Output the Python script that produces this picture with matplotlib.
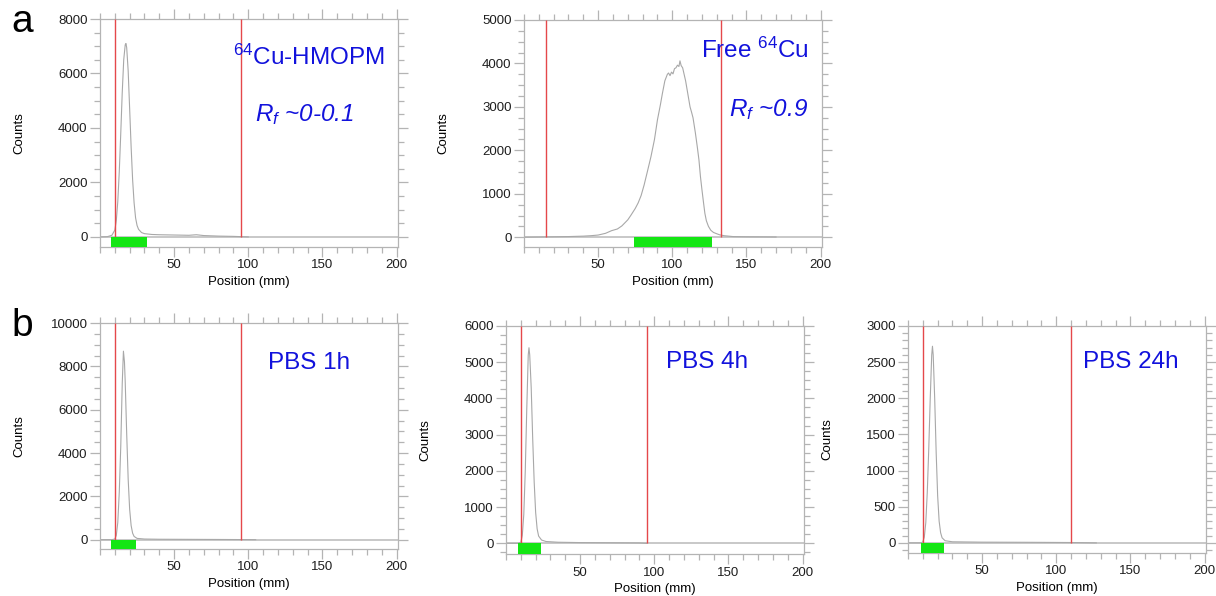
import matplotlib.pyplot as plt
from matplotlib.ticker import MultipleLocator

plt.rcParams["font.family"] = ["Liberation Sans", "DejaVu Sans"]
plt.rcParams["mathtext.fontset"] = "custom"
plt.rcParams["mathtext.rm"] = "Liberation Sans"
plt.rcParams["mathtext.it"] = "Liberation Sans:italic"

# Radio-TLC scans: position (mm) vs counts
hmopm_x = [0, 5, 8, 10, 11, 12, 13, 14, 15, 16, 17, 17.5, 18, 19, 20, 21, 22, 23,
           24, 25, 26, 28, 30, 35, 40, 50, 60, 65, 70, 80, 90, 100]
hmopm_y = [0, 10, 60, 250, 600, 1300, 2400, 3800, 5300, 6500, 7050, 7100, 6950,
           6100, 4700, 3300, 2100, 1250, 700, 420, 280, 160, 120, 90, 80, 70, 60,
           80, 50, 30, 20, 0]

free_x = [0, 10, 20, 30, 40, 45, 50, 55, 59, 63, 66, 68, 70, 72, 75, 77, 79, 81, 83,
          85.6, 88, 90, 92, 93.3, 95, 96.7, 97.5, 98.5, 99.5, 100.5, 101.5, 102.5,
          103.5, 104.5, 105.2, 106, 107, 108, 109, 110, 111, 112, 113, 114, 115.6,
          117, 118, 119, 120, 121, 122, 123, 124.4, 126, 127.8, 130, 132, 135, 141,
          150, 160, 170]
free_y = [0, 5, 10, 15, 25, 35, 50, 90, 150, 190, 260, 330, 400, 500, 660, 790, 960,
          1200, 1480, 1850, 2250, 2700, 3050, 3300, 3600, 3750, 3780, 3720, 3800, 3760,
          3880, 3900, 3960, 3930, 4060, 3950, 3900, 3750, 3600, 3400, 3200, 3000, 2880,
          2750, 2400, 2050, 1780, 1400, 1100, 820, 550, 380, 250, 160, 110, 80, 55, 35,
          15, 10, 8, 5]

pbs1_x = [0, 8, 10, 11, 12, 13, 14, 15, 15.8, 16.5, 17, 18, 19, 20, 21, 22, 23, 25,
          30, 40, 60, 80, 95, 105]
pbs1_y = [0, 0, 30, 200, 800, 2200, 4300, 7200, 8700, 8200, 7300, 4900, 2800, 1400,
          650, 300, 150, 60, 30, 20, 15, 10, 5, 0]

pbs4_x = [0, 8, 10, 11, 12, 13, 14, 15, 15.5, 16, 17, 18, 19, 20, 21, 22, 24, 27, 35,
          50, 70, 90, 95]
pbs4_y = [0, 0, 30, 220, 800, 2000, 3700, 5200, 5400, 5200, 4300, 2900, 1700, 850,
          400, 200, 90, 50, 30, 20, 15, 10, 0]

pbs24_x = [0, 9, 10, 11, 12, 13, 14, 15, 16, 16.5, 17, 18, 19, 20, 21, 22, 23, 25, 30,
           50, 80, 110, 127]
pbs24_y = [0, 0, 15, 80, 280, 700, 1300, 2000, 2600, 2720, 2600, 2000, 1250, 650, 300,
           140, 70, 30, 15, 10, 8, 5, 0]

titles = [r"$^{64}$Cu-HMOPM", r"Free $^{64}$Cu", "PBS 1h", "PBS 4h", "PBS 24h"]
rf_labels = [r"$R_f$ ~0-0.1", r"$R_f$ ~0.9", None, None, None]
red_lines = [(10, 95), (15, 133), (10, 95), (10, 95), (10, 110)]
green_bands = [(7.5, 31.5), (74, 127), (7.5, 24.3), (8, 23.7), (9, 24.6)]
y_top = [8000, 5000, 10000, 6000, 3000]
y_bottom = [-370, -225, -430, -295, -140]
y_major = [2000, 1000, 2000, 1000, 500]
y_minor = [500, 250, 500, 250, 100]

traces = [(hmopm_x, hmopm_y), (free_x, free_y), (pbs1_x, pbs1_y),
          (pbs4_x, pbs4_y), (pbs24_x, pbs24_y)]

# axes boxes in pixels: left, top, right, bottom
boxes = [(100, 19, 398, 247), (524, 20, 822, 247), (100, 323, 398, 549),
         (506, 326, 804, 554), (908, 326, 1206, 553)]
title_pos = [(0.70, 0.833), (0.775, 0.868), (0.70, 0.822), (0.675, 0.842), (0.748, 0.842)]
rf_pos = [(0.685, 0.58), (0.82, 0.604)]

W, H = 1216, 596
fig = plt.figure(figsize=(W / 100, H / 100), dpi=100)

frame_col = "#b4b4b4"
text_blue = "#1212dc"

for i, (l, t, r, b) in enumerate(boxes):
    ax = fig.add_axes([l / W, 1 - b / H, (r - l) / W, (b - t) / H])
    x, y = traces[i]

    ax.axhline(0, color="#c4c4c4", lw=1.3, zorder=1)
    ax.plot(x, y, color="#a8a8a8", lw=0.8, zorder=2)
    for xr in red_lines[i]:
        ax.vlines(xr, 0, y_top[i], color="#e5484b", lw=1.0, zorder=3)
    g0, g1 = green_bands[i]
    ax.fill_between([g0, g1], y_bottom[i], 0, color="#14e614", lw=0, zorder=4)

    ax.set_xlim(0, 201)
    ax.set_ylim(y_bottom[i], y_top[i])
    ax.xaxis.set_major_locator(MultipleLocator(50))
    ax.xaxis.set_minor_locator(MultipleLocator(10))
    ax.yaxis.set_major_locator(MultipleLocator(y_major[i]))
    ax.yaxis.set_minor_locator(MultipleLocator(y_minor[i]))
    ax.set_xticks([50, 100, 150, 200])

    for sp in ax.spines.values():
        sp.set_color(frame_col)
        sp.set_linewidth(0.9)
    ax.tick_params(which="both", direction="out", top=True, right=True,
                   color=frame_col, width=0.9, labelsize=9.5, labelcolor="#1e1e1e")
    ax.tick_params(which="major", length=7, pad=2)
    ax.tick_params(which="minor", length=4)

    ax.set_xlabel("Position (mm)", fontsize=9.5, labelpad=3)
    ax.set_ylabel("Counts", fontsize=9.5)
    ax.yaxis.set_label_coords(-0.25, 0.5)

    tx, ty = title_pos[i]
    ax.text(tx, ty, titles[i], transform=ax.transAxes, ha="center", va="center",
            fontsize=17.5, color=text_blue)
    if rf_labels[i]:
        rx, ry = rf_pos[i]
        ax.text(rx, ry, rf_labels[i], transform=ax.transAxes, ha="center",
                va="center", fontsize=17.5, color=text_blue, style="italic")

fig.text(22 / W, 1 - 22 / H, "a", fontsize=28, ha="center", va="center")
fig.text(22 / W, 1 - 326 / H, "b", fontsize=28, ha="center", va="center")

fig.savefig("out.png", dpi=100)
